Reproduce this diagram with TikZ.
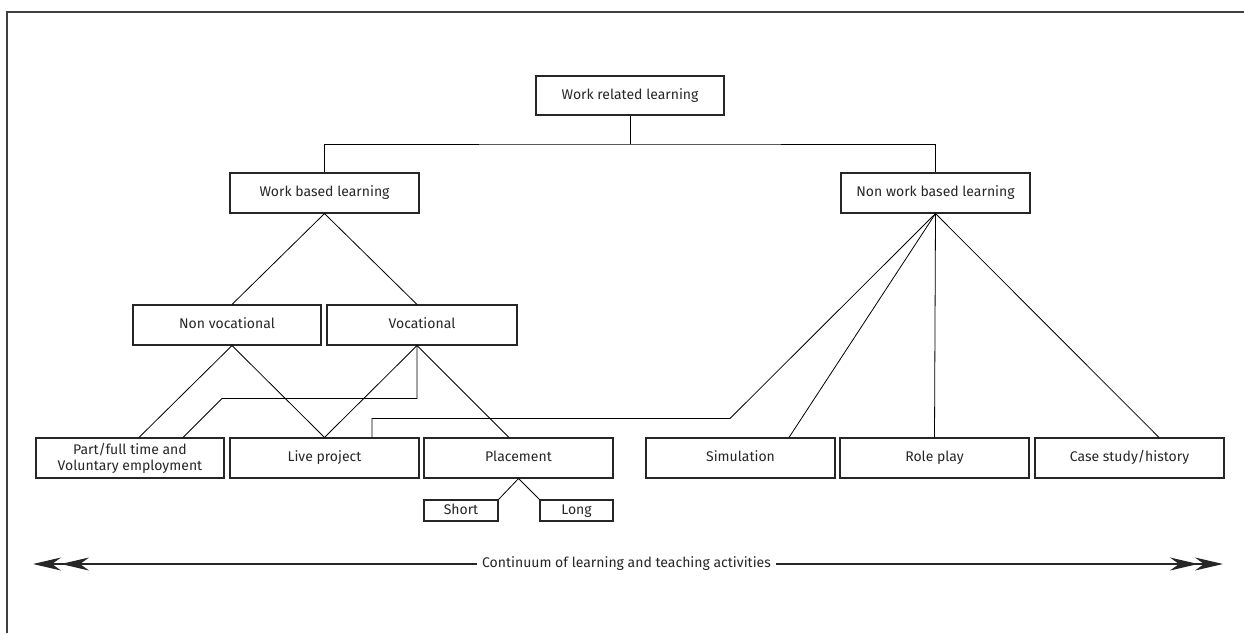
\documentclass[tikz,border=0pt]{standalone}
\usepackage{fontspec}
\setmainfont{Fira Sans}
\usetikzlibrary{arrows.meta}
\begin{document}
\begin{tikzpicture}[x=1pt,y=-1pt,
  lbl/.style={font=\fontsize{14}{16}\selectfont,text=black!85},
  box/.style={lbl,draw=black!85,line width=1.1pt,minimum width=189pt,minimum height=40pt,
    inner sep=0pt,align=center,text height=10pt,text depth=3pt},
  smallbox/.style={box,minimum height=21pt},
  link/.style={draw=black,line width=0.8pt},
  head/.style={Stealth[length=28pt,width=13pt,inset=9pt]}]
\useasboundingbox (0,0) rectangle (1244,633);
% frame
\draw[black!75,line width=2pt] (7,633) -- (7,12) -- (1244,12);

% boxes
\node[box,minimum width=188pt,minimum height=39pt] (wrl) at (630,95.5) {Work related learning};
\node[box] (wbl)  at (324.5,193) {Work based learning};
\node[box] (nwbl) at (935.5,193) {Non work based learning};
\node[box,minimum width=188pt] (nv)  at (227,325) {Non vocational};
\node[box,minimum width=190pt] (voc) at (422,325) {Vocational};
\node[box,minimum width=188pt,text height=,text depth=] (pf) at (130,458) {Part/full time and\\Voluntary employment};
\node[box] (lp) at (324.5,458) {Live project};
\node[box] (pl) at (518.5,458) {Placement};
\node[box] (sim) at (740.5,458) {Simulation};
\node[box] (rp) at (934.5,458) {Role play};
\node[box] (cs) at (1129.5,458) {Case study/history};
\node[smallbox,minimum width=74pt] (sh) at (461,510.5) {Short};
\node[smallbox,minimum width=73pt] (lo) at (576.5,510.5) {Long};

% tree connectors
\coordinate (bus) at (630,144);
\draw[link] (wrl.south) -- (bus);
\draw[link] (wbl.north) |- (bus) -| (nwbl.north);
\draw[link] ([xshift=5pt]nv.north) -- (wbl.south) -- ([xshift=-5pt]voc.north);
\draw[link] ([xshift=9pt]pf.north) -- ([xshift=5pt]nv.south) -- (lp.north);
\draw[link] (lp.north) -- ([xshift=-5pt]voc.south) -- ([xshift=-9.5pt]pl.north);
\coordinate (vk) at (417,398.5);
\coordinate (vj) at (222,398.5);
\draw[link] ([xshift=-5pt]voc.south) -- (vk) -- (vj) -- ([xshift=53pt]pf.north);
\coordinate (nk) at (730,418.5);
\coordinate (nj) at (372,418.5);
\draw[link] (nwbl.south) -- (nk) -- (nj) -- ([xshift=47.5pt]lp.north);
\draw[link] (nwbl.south) -- ([xshift=48.5pt]sim.north);
\draw[link] (nwbl.south) -- (rp.north);
\draw[link] (nwbl.south) -- ([xshift=29.5pt]cs.north);
\draw[link] (sh.north east) -- (pl.south) -- (lo.north west);

% continuum
\coordinate (cl) at (36,564);
\coordinate (cr) at (1223,564);
\draw[line width=1.1pt,black!85,{Stealth[length=28pt,width=13pt,inset=9pt,sep=-3pt]Stealth[length=28pt,width=13pt,inset=9pt]}-{Stealth[length=28pt,width=13pt,inset=9pt,sep=-3pt]Stealth[length=28pt,width=13pt,inset=9pt]}] (cl) -- (cr);
\node[lbl,fill=white,inner xsep=5pt] (ct) at (626.5,564) {Continuum of learning and teaching activities};
\end{tikzpicture}
\end{document}
